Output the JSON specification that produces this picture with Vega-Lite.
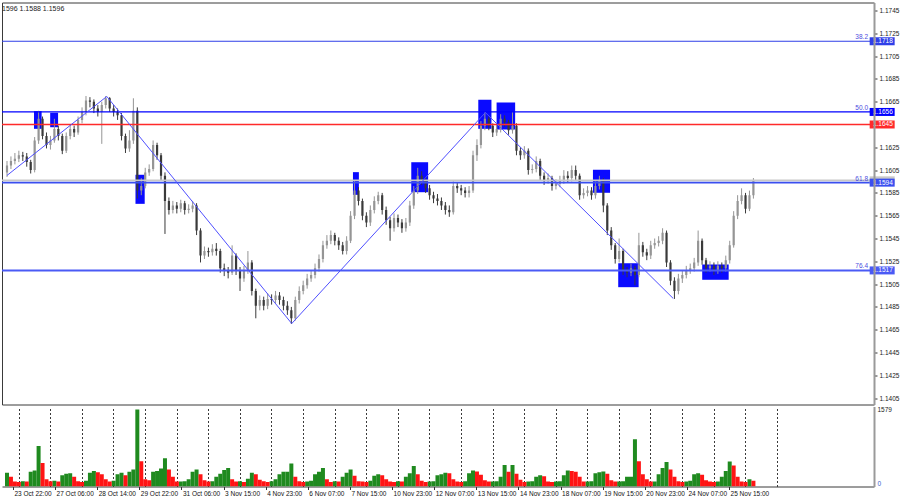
{
"$schema": "https://vega.github.io/schema/vega-lite/v6.json",
"padding": {"left": 0, "top": 1.5, "right": 0, "bottom": 0},
"background": "white",
"bounds": "flush",
"spacing": 2,
"title": {"text": "1596 1.1588 1.1596", "anchor": "start", "frame": "group", "orient": "top", "baseline": "top", "offset": -10, "fontSize": 7, "fontWeight": "normal", "color": "#222222", "font": "Liberation Sans"},
"datasets": {
"bars": [
{"t":0,"o":1.1603,"h":1.1613,"l":1.1599,"c":1.1609,"v":280},
{"t":3,"o":1.1609,"h":1.1617,"l":1.1606,"c":1.1613,"v":200},
{"t":6,"o":1.1613,"h":1.1620,"l":1.1610,"c":1.1615,"v":100},
{"t":9,"o":1.1615,"h":1.1622,"l":1.1612,"c":1.1618,"v":90},
{"t":12,"o":1.1618,"h":1.1621,"l":1.1613,"c":1.1617,"v":110},
{"t":15,"o":1.1617,"h":1.1620,"l":1.1608,"c":1.1612,"v":100},
{"t":18,"o":1.1612,"h":1.1614,"l":1.1602,"c":1.1605,"v":300},
{"t":21,"o":1.1605,"h":1.1634,"l":1.1603,"c":1.1631,"v":330},
{"t":24,"o":1.1631,"h":1.1657,"l":1.1628,"c":1.1650,"v":830},
{"t":27,"o":1.1650,"h":1.1652,"l":1.1632,"c":1.1635,"v":480},
{"t":30,"o":1.1635,"h":1.1638,"l":1.1624,"c":1.1627,"v":150},
{"t":33,"o":1.1627,"h":1.1635,"l":1.1623,"c":1.1631,"v":110},
{"t":36,"o":1.1631,"h":1.1650,"l":1.1629,"c":1.1641,"v":120},
{"t":39,"o":1.1641,"h":1.1644,"l":1.1631,"c":1.1635,"v":100},
{"t":42,"o":1.1635,"h":1.1637,"l":1.1619,"c":1.1622,"v":230},
{"t":45,"o":1.1622,"h":1.1638,"l":1.1620,"c":1.1635,"v":260},
{"t":48,"o":1.1635,"h":1.1645,"l":1.1632,"c":1.1641,"v":270},
{"t":51,"o":1.1641,"h":1.1644,"l":1.1634,"c":1.1638,"v":200},
{"t":54,"o":1.1638,"h":1.1652,"l":1.1636,"c":1.1649,"v":110},
{"t":57,"o":1.1649,"h":1.1660,"l":1.1646,"c":1.1656,"v":90},
{"t":60,"o":1.1656,"h":1.1670,"l":1.1653,"c":1.1666,"v":120},
{"t":63,"o":1.1666,"h":1.1669,"l":1.1660,"c":1.1665,"v":280},
{"t":66,"o":1.1665,"h":1.1667,"l":1.1655,"c":1.1659,"v":320},
{"t":69,"o":1.1659,"h":1.1662,"l":1.1652,"c":1.1656,"v":290},
{"t":72,"o":1.1656,"h":1.1665,"l":1.1628,"c":1.1662,"v":250},
{"t":75,"o":1.1662,"h":1.1670,"l":1.1659,"c":1.1668,"v":150},
{"t":78,"o":1.1668,"h":1.1669,"l":1.1656,"c":1.1659,"v":100},
{"t":81,"o":1.1659,"h":1.1662,"l":1.1652,"c":1.1656,"v":120},
{"t":84,"o":1.1656,"h":1.1659,"l":1.1649,"c":1.1653,"v":250},
{"t":87,"o":1.1653,"h":1.1655,"l":1.1631,"c":1.1635,"v":280},
{"t":90,"o":1.1635,"h":1.1637,"l":1.1620,"c":1.1624,"v":230},
{"t":93,"o":1.1624,"h":1.1640,"l":1.1621,"c":1.1631,"v":300},
{"t":96,"o":1.1631,"h":1.1668,"l":1.1628,"c":1.1657,"v":350},
{"t":99,"o":1.1657,"h":1.1660,"l":1.1580,"c":1.1587,"v":1579},
{"t":102,"o":1.1587,"h":1.1598,"l":1.1583,"c":1.1591,"v":520},
{"t":105,"o":1.1591,"h":1.1607,"l":1.1589,"c":1.1603,"v":150},
{"t":108,"o":1.1603,"h":1.1610,"l":1.1600,"c":1.1606,"v":130},
{"t":111,"o":1.1606,"h":1.1631,"l":1.1604,"c":1.1627,"v":300},
{"t":114,"o":1.1627,"h":1.1629,"l":1.1614,"c":1.1618,"v":320},
{"t":117,"o":1.1618,"h":1.1620,"l":1.1596,"c":1.1600,"v":370},
{"t":120,"o":1.1600,"h":1.1603,"l":1.1549,"c":1.1578,"v":580},
{"t":123,"o":1.1578,"h":1.1581,"l":1.1566,"c":1.1570,"v":350},
{"t":126,"o":1.1570,"h":1.1578,"l":1.1567,"c":1.1574,"v":200},
{"t":129,"o":1.1574,"h":1.1577,"l":1.1567,"c":1.1571,"v":100},
{"t":132,"o":1.1571,"h":1.1579,"l":1.1568,"c":1.1576,"v":100},
{"t":135,"o":1.1576,"h":1.1578,"l":1.1566,"c":1.1570,"v":110},
{"t":138,"o":1.1570,"h":1.1575,"l":1.1567,"c":1.1571,"v":150},
{"t":141,"o":1.1571,"h":1.1578,"l":1.1568,"c":1.1574,"v":300},
{"t":144,"o":1.1574,"h":1.1576,"l":1.1548,"c":1.1552,"v":350},
{"t":147,"o":1.1552,"h":1.1554,"l":1.1524,"c":1.1530,"v":250},
{"t":150,"o":1.1530,"h":1.1538,"l":1.1527,"c":1.1534,"v":130},
{"t":153,"o":1.1534,"h":1.1537,"l":1.1529,"c":1.1533,"v":100},
{"t":156,"o":1.1533,"h":1.1540,"l":1.1530,"c":1.1536,"v":110},
{"t":159,"o":1.1536,"h":1.1541,"l":1.1530,"c":1.1534,"v":200},
{"t":162,"o":1.1534,"h":1.1536,"l":1.1515,"c":1.1519,"v":260},
{"t":165,"o":1.1519,"h":1.1523,"l":1.1512,"c":1.1517,"v":340},
{"t":168,"o":1.1517,"h":1.1520,"l":1.1510,"c":1.1515,"v":380},
{"t":171,"o":1.1515,"h":1.1539,"l":1.1513,"c":1.1530,"v":150},
{"t":174,"o":1.1530,"h":1.1532,"l":1.1513,"c":1.1517,"v":100},
{"t":177,"o":1.1517,"h":1.1520,"l":1.1499,"c":1.1510,"v":110},
{"t":180,"o":1.1510,"h":1.1521,"l":1.1507,"c":1.1517,"v":90},
{"t":183,"o":1.1517,"h":1.1534,"l":1.1514,"c":1.1524,"v":160},
{"t":186,"o":1.1524,"h":1.1526,"l":1.1495,"c":1.1499,"v":280},
{"t":189,"o":1.1499,"h":1.1501,"l":1.1475,"c":1.1486,"v":250},
{"t":192,"o":1.1486,"h":1.1495,"l":1.1482,"c":1.1491,"v":140},
{"t":195,"o":1.1491,"h":1.1494,"l":1.1482,"c":1.1486,"v":110},
{"t":198,"o":1.1486,"h":1.1497,"l":1.1483,"c":1.1492,"v":90},
{"t":201,"o":1.1492,"h":1.1496,"l":1.1487,"c":1.1491,"v":110},
{"t":204,"o":1.1491,"h":1.1499,"l":1.1488,"c":1.1495,"v":150},
{"t":207,"o":1.1495,"h":1.1498,"l":1.1487,"c":1.1491,"v":250},
{"t":210,"o":1.1491,"h":1.1494,"l":1.1482,"c":1.1486,"v":300},
{"t":213,"o":1.1486,"h":1.1490,"l":1.1478,"c":1.1482,"v":300},
{"t":216,"o":1.1482,"h":1.1485,"l":1.1470,"c":1.1475,"v":470},
{"t":219,"o":1.1475,"h":1.1494,"l":1.1473,"c":1.1491,"v":200},
{"t":222,"o":1.1491,"h":1.1503,"l":1.1488,"c":1.1499,"v":110},
{"t":225,"o":1.1499,"h":1.1508,"l":1.1496,"c":1.1504,"v":90},
{"t":228,"o":1.1504,"h":1.1514,"l":1.1501,"c":1.1510,"v":100},
{"t":231,"o":1.1510,"h":1.1517,"l":1.1507,"c":1.1513,"v":120},
{"t":234,"o":1.1513,"h":1.1523,"l":1.1510,"c":1.1519,"v":250},
{"t":237,"o":1.1519,"h":1.1531,"l":1.1516,"c":1.1527,"v":300},
{"t":240,"o":1.1527,"h":1.1543,"l":1.1524,"c":1.1539,"v":380},
{"t":243,"o":1.1539,"h":1.1548,"l":1.1536,"c":1.1543,"v":150},
{"t":246,"o":1.1543,"h":1.1552,"l":1.1540,"c":1.1548,"v":90},
{"t":249,"o":1.1548,"h":1.1550,"l":1.1539,"c":1.1543,"v":110},
{"t":252,"o":1.1543,"h":1.1546,"l":1.1535,"c":1.1539,"v":100},
{"t":255,"o":1.1539,"h":1.1542,"l":1.1531,"c":1.1534,"v":200},
{"t":258,"o":1.1534,"h":1.1547,"l":1.1531,"c":1.1543,"v":280},
{"t":261,"o":1.1543,"h":1.1569,"l":1.1541,"c":1.1565,"v":350},
{"t":264,"o":1.1565,"h":1.1596,"l":1.1562,"c":1.1587,"v":220},
{"t":267,"o":1.1587,"h":1.1590,"l":1.1574,"c":1.1578,"v":110},
{"t":270,"o":1.1578,"h":1.1580,"l":1.1561,"c":1.1565,"v":100},
{"t":273,"o":1.1565,"h":1.1568,"l":1.1555,"c":1.1559,"v":90},
{"t":276,"o":1.1559,"h":1.1574,"l":1.1556,"c":1.1570,"v":120},
{"t":279,"o":1.1570,"h":1.1582,"l":1.1567,"c":1.1578,"v":220},
{"t":282,"o":1.1578,"h":1.1586,"l":1.1575,"c":1.1583,"v":250},
{"t":285,"o":1.1583,"h":1.1585,"l":1.1566,"c":1.1570,"v":230},
{"t":288,"o":1.1570,"h":1.1573,"l":1.1557,"c":1.1561,"v":150},
{"t":291,"o":1.1561,"h":1.1564,"l":1.1543,"c":1.1554,"v":100},
{"t":294,"o":1.1554,"h":1.1567,"l":1.1551,"c":1.1563,"v":90},
{"t":297,"o":1.1563,"h":1.1566,"l":1.1555,"c":1.1559,"v":110},
{"t":300,"o":1.1559,"h":1.1562,"l":1.1550,"c":1.1554,"v":100},
{"t":303,"o":1.1554,"h":1.1563,"l":1.1551,"c":1.1559,"v":200},
{"t":306,"o":1.1559,"h":1.1578,"l":1.1556,"c":1.1574,"v":270},
{"t":309,"o":1.1574,"h":1.1591,"l":1.1571,"c":1.1587,"v":420},
{"t":312,"o":1.1587,"h":1.1607,"l":1.1584,"c":1.1600,"v":250},
{"t":315,"o":1.1600,"h":1.1604,"l":1.1592,"c":1.1596,"v":120},
{"t":318,"o":1.1596,"h":1.1599,"l":1.1585,"c":1.1589,"v":90},
{"t":321,"o":1.1589,"h":1.1592,"l":1.1579,"c":1.1583,"v":100},
{"t":324,"o":1.1583,"h":1.1586,"l":1.1576,"c":1.1580,"v":110},
{"t":327,"o":1.1580,"h":1.1584,"l":1.1574,"c":1.1578,"v":230},
{"t":330,"o":1.1578,"h":1.1581,"l":1.1570,"c":1.1574,"v":250},
{"t":333,"o":1.1574,"h":1.1577,"l":1.1566,"c":1.1570,"v":280},
{"t":336,"o":1.1570,"h":1.1574,"l":1.1564,"c":1.1568,"v":270},
{"t":339,"o":1.1568,"h":1.1595,"l":1.1566,"c":1.1591,"v":150},
{"t":342,"o":1.1591,"h":1.1594,"l":1.1585,"c":1.1589,"v":100},
{"t":345,"o":1.1589,"h":1.1592,"l":1.1583,"c":1.1587,"v":90},
{"t":348,"o":1.1587,"h":1.1590,"l":1.1581,"c":1.1585,"v":110},
{"t":351,"o":1.1585,"h":1.1591,"l":1.1581,"c":1.1587,"v":270},
{"t":354,"o":1.1587,"h":1.1622,"l":1.1585,"c":1.1618,"v":330},
{"t":357,"o":1.1618,"h":1.1632,"l":1.1613,"c":1.1627,"v":310},
{"t":360,"o":1.1627,"h":1.1648,"l":1.1624,"c":1.1644,"v":240},
{"t":363,"o":1.1644,"h":1.1656,"l":1.1640,"c":1.1650,"v":130},
{"t":366,"o":1.1650,"h":1.1652,"l":1.1640,"c":1.1644,"v":100},
{"t":369,"o":1.1644,"h":1.1646,"l":1.1634,"c":1.1638,"v":100},
{"t":372,"o":1.1638,"h":1.1645,"l":1.1635,"c":1.1641,"v":110},
{"t":375,"o":1.1641,"h":1.1654,"l":1.1638,"c":1.1650,"v":200},
{"t":378,"o":1.1650,"h":1.1653,"l":1.1643,"c":1.1647,"v":440},
{"t":381,"o":1.1647,"h":1.1649,"l":1.1636,"c":1.1640,"v":300},
{"t":384,"o":1.1640,"h":1.1656,"l":1.1637,"c":1.1644,"v":440},
{"t":387,"o":1.1644,"h":1.1646,"l":1.1618,"c":1.1622,"v":260},
{"t":390,"o":1.1622,"h":1.1625,"l":1.1614,"c":1.1618,"v":140},
{"t":393,"o":1.1618,"h":1.1626,"l":1.1615,"c":1.1622,"v":90},
{"t":396,"o":1.1622,"h":1.1624,"l":1.1601,"c":1.1605,"v":100},
{"t":399,"o":1.1605,"h":1.1610,"l":1.1602,"c":1.1606,"v":110},
{"t":402,"o":1.1606,"h":1.1617,"l":1.1603,"c":1.1613,"v":200},
{"t":405,"o":1.1613,"h":1.1615,"l":1.1596,"c":1.1600,"v":230},
{"t":408,"o":1.1600,"h":1.1603,"l":1.1592,"c":1.1596,"v":210},
{"t":411,"o":1.1596,"h":1.1602,"l":1.1593,"c":1.1598,"v":100},
{"t":414,"o":1.1598,"h":1.1600,"l":1.1587,"c":1.1591,"v":90},
{"t":417,"o":1.1591,"h":1.1597,"l":1.1588,"c":1.1593,"v":100},
{"t":420,"o":1.1593,"h":1.1600,"l":1.1590,"c":1.1596,"v":110},
{"t":423,"o":1.1596,"h":1.1605,"l":1.1593,"c":1.1600,"v":230},
{"t":426,"o":1.1600,"h":1.1604,"l":1.1594,"c":1.1598,"v":330},
{"t":429,"o":1.1598,"h":1.1609,"l":1.1595,"c":1.1605,"v":320},
{"t":432,"o":1.1605,"h":1.1609,"l":1.1596,"c":1.1600,"v":300},
{"t":435,"o":1.1600,"h":1.1602,"l":1.1579,"c":1.1583,"v":200},
{"t":438,"o":1.1583,"h":1.1589,"l":1.1580,"c":1.1585,"v":100},
{"t":441,"o":1.1585,"h":1.1591,"l":1.1582,"c":1.1587,"v":100},
{"t":444,"o":1.1587,"h":1.1590,"l":1.1579,"c":1.1583,"v":110},
{"t":447,"o":1.1583,"h":1.1595,"l":1.1580,"c":1.1591,"v":270},
{"t":450,"o":1.1591,"h":1.1600,"l":1.1588,"c":1.1596,"v":290},
{"t":453,"o":1.1596,"h":1.1598,"l":1.1568,"c":1.1574,"v":310},
{"t":456,"o":1.1574,"h":1.1576,"l":1.1548,"c":1.1552,"v":260},
{"t":459,"o":1.1552,"h":1.1555,"l":1.1535,"c":1.1539,"v":130},
{"t":462,"o":1.1539,"h":1.1541,"l":1.1523,"c":1.1527,"v":100},
{"t":465,"o":1.1527,"h":1.1545,"l":1.1524,"c":1.1534,"v":100},
{"t":468,"o":1.1534,"h":1.1536,"l":1.1513,"c":1.1517,"v":110},
{"t":471,"o":1.1517,"h":1.1520,"l":1.1511,"c":1.1515,"v":200},
{"t":474,"o":1.1515,"h":1.1523,"l":1.1512,"c":1.1519,"v":200},
{"t":477,"o":1.1519,"h":1.1521,"l":1.1504,"c":1.1513,"v":970},
{"t":480,"o":1.1513,"h":1.1550,"l":1.1511,"c":1.1539,"v":520},
{"t":483,"o":1.1539,"h":1.1542,"l":1.1529,"c":1.1533,"v":250},
{"t":486,"o":1.1533,"h":1.1536,"l":1.1526,"c":1.1530,"v":150},
{"t":489,"o":1.1530,"h":1.1543,"l":1.1527,"c":1.1539,"v":100},
{"t":492,"o":1.1539,"h":1.1545,"l":1.1536,"c":1.1541,"v":100},
{"t":495,"o":1.1541,"h":1.1547,"l":1.1538,"c":1.1543,"v":250},
{"t":498,"o":1.1543,"h":1.1554,"l":1.1540,"c":1.1550,"v":380},
{"t":501,"o":1.1550,"h":1.1552,"l":1.1520,"c":1.1524,"v":500},
{"t":504,"o":1.1524,"h":1.1526,"l":1.1504,"c":1.1508,"v":350},
{"t":507,"o":1.1508,"h":1.1511,"l":1.1492,"c":1.1499,"v":200},
{"t":510,"o":1.1499,"h":1.1514,"l":1.1496,"c":1.1510,"v":110},
{"t":513,"o":1.1510,"h":1.1517,"l":1.1506,"c":1.1513,"v":90},
{"t":516,"o":1.1513,"h":1.1521,"l":1.1510,"c":1.1517,"v":100},
{"t":519,"o":1.1517,"h":1.1523,"l":1.1514,"c":1.1519,"v":120},
{"t":522,"o":1.1519,"h":1.1528,"l":1.1516,"c":1.1524,"v":250},
{"t":525,"o":1.1524,"h":1.1552,"l":1.1521,"c":1.1543,"v":270},
{"t":528,"o":1.1543,"h":1.1545,"l":1.1522,"c":1.1526,"v":240},
{"t":531,"o":1.1526,"h":1.1528,"l":1.1515,"c":1.1519,"v":130},
{"t":534,"o":1.1519,"h":1.1525,"l":1.1516,"c":1.1521,"v":100},
{"t":537,"o":1.1521,"h":1.1524,"l":1.1513,"c":1.1517,"v":90},
{"t":540,"o":1.1517,"h":1.1525,"l":1.1514,"c":1.1521,"v":100},
{"t":543,"o":1.1521,"h":1.1524,"l":1.1515,"c":1.1519,"v":200},
{"t":546,"o":1.1519,"h":1.1530,"l":1.1516,"c":1.1526,"v":320},
{"t":549,"o":1.1526,"h":1.1543,"l":1.1523,"c":1.1539,"v":510},
{"t":552,"o":1.1539,"h":1.1569,"l":1.1537,"c":1.1565,"v":430},
{"t":555,"o":1.1565,"h":1.1583,"l":1.1562,"c":1.1578,"v":200},
{"t":558,"o":1.1578,"h":1.1589,"l":1.1575,"c":1.1583,"v":100},
{"t":561,"o":1.1583,"h":1.1585,"l":1.1567,"c":1.1571,"v":90},
{"t":564,"o":1.1571,"h":1.1587,"l":1.1569,"c":1.1583,"v":150},
{"t":567,"o":1.1583,"h":1.1598,"l":1.1580,"c":1.1596,"v":120}
],
"boxes": [
{"t1":20.5,"t2":26.3,"p1":1.16567,"p2":1.16412},
{"t1":32.8,"t2":38.8,"p1":1.16553,"p2":1.16426},
{"t1":97.6,"t2":104.6,"p1":1.16009,"p2":1.15754},
{"t1":262.8,"t2":267.3,"p1":1.16032,"p2":1.15833},
{"t1":307.1,"t2":319.9,"p1":1.16119,"p2":1.15856},
{"t1":358.0,"t2":368.0,"p1":1.16667,"p2":1.16412},
{"t1":371.9,"t2":386.0,"p1":1.16643,"p2":1.16406},
{"t1":445.1,"t2":458.1,"p1":1.16053,"p2":1.15851},
{"t1":464.3,"t2":479.8,"p1":1.15233,"p2":1.15023},
{"t1":528.1,"t2":548.2,"p1":1.15222,"p2":1.15088}
],
"zig": [
{"t":0,"p":1.16003},
{"t":75.8,"p":1.16696},
{"t":216.3,"p":1.14704},
{"t":363.4,"p":1.16555},
{"t":506.1,"p":1.14924}
],
"levels": [
{"name":"fib382","p":1.1718,"lab":"38.2"},
{"name":"fib50","p":1.1656,"lab":"50.0"},
{"name":"red","p":1.1645,"lab":""},
{"name":"bid","p":1.1596,"lab":""},
{"name":"fib618","p":1.1594,"lab":"61.8"},
{"name":"fib764","p":1.1517,"lab":"76.4"}
]
},
"vconcat": [
{
"width": 872,
"height": 402,
"view": {"stroke": "#3a3a3a", "strokeWidth": 1},
"resolve": {"axis": {"y": "independent"}},
"layer": [
{
"data": {"name": "boxes"},
"mark": {"type": "rect", "color": "#0a0aff"},
"encoding": {
"x": {"field": "t1", "type": "quantitative", "scale": {"domain": [0, 654.8], "nice": false, "zero": false},
"axis": {"orient": "bottom", "title": null, "values": [8.8,32.8,56.8,80.8,104.8,128.8,152.8,176.8,200.8,224.8,248.8,272.8,296.8,320.8,344.8,368.8,392.8,416.8,440.8,464.8,488.8,512.8,536.8,560.8,584.8], "grid": true, "gridDash": [2,2], "gridColor": "#3a3a3a", "gridWidth": 1, "labels": false, "ticks": false, "domain": true, "domainColor": "#a8a8a8", "domainWidth": 3}},
"x2": {"field": "t2"},
"y": {"field": "p1", "type": "quantitative", "scale": {"domain": [1.13994, 1.1752], "nice": false, "zero": false}, "axis": null},
"y2": {"field": "p2"}
}
},
{
"data": {"name": "bars"},
"mark": {"type": "rule", "strokeWidth": 1, "clip": true},
"encoding": {
"x": {"field": "t", "type": "quantitative", "axis": null},
"y": {"field": "l", "type": "quantitative",
"axis": {"orient": "right", "title": null, "grid": false, "zindex": 1, "offset": 0, "values": [1.1745,1.1725,1.1705,1.1685,1.1665,1.1625,1.1605,1.1585,1.1565,1.1545,1.1525,1.1505,1.1485,1.1465,1.1445,1.1425,1.1405], "format": ".4f", "domainColor": "#9a9a9a", "domainWidth": 2, "tickSize": 3, "tickColor": "#333333", "tickWidth": 1, "labelPadding": 2, "labelFontSize": 6.5, "labelFont": "Liberation Sans", "labelColor": "#1a1a1a", "labelOverlap": false, "labelFlush": false}},
"y2": {"field": "h"},
"color": {"condition": {"test": "datum.c >= datum.o", "value": "#959595"}, "value": "#3a3a3a"}
}
},
{
"data": {"name": "bars"},
"mark": {"type": "bar", "width": 2.2, "clip": true},
"encoding": {
"x": {"field": "t", "type": "quantitative", "axis": null},
"y": {"field": "o", "type": "quantitative", "axis": null},
"y2": {"field": "c"},
"color": {"condition": {"test": "datum.c >= datum.o", "value": "#959595"}, "value": "#3a3a3a"}
}
},
{
"data": {"name": "levels"},
"mark": {"type": "rule"},
"encoding": {
"y": {"field": "p", "type": "quantitative", "axis": null},
"color": {"field": "name", "type": "nominal", "scale": {"domain": ["fib382","fib50","red","bid","fib618","fib764"], "range": ["#2f3fe8","#0000ff","#ff2a2a","#c8c8c8","#3a4ff0","#4a5af5"]}, "legend": null},
"strokeWidth": {"field": "name", "type": "ordinal", "scale": {"domain": ["fib382","fib50","red","bid","fib618","fib764"], "range": [1,2,1,2,1,3]}, "legend": null}
}
},
{
"data": {"name": "zig"},
"mark": {"type": "line", "color": "#4f4fff", "strokeWidth": 1, "clip": true},
"encoding": {
"x": {"field": "t", "type": "quantitative", "axis": null},
"y": {"field": "p", "type": "quantitative", "axis": null},
"order": {"field": "t"}
}
},
{
"data": {"name": "levels"},
"transform": [{"filter": "datum.lab != ''"}],
"mark": {"type": "text", "align": "right", "baseline": "bottom", "dx": -1, "dy": -1, "fontSize": 6.5, "font": "Liberation Sans", "color": "#4d4dde"},
"encoding": {
"x": {"datum": 654.8, "type": "quantitative", "axis": null},
"y": {"field": "p", "type": "quantitative", "axis": null},
"text": {"field": "lab"}
}
},
{
"data": {"name": "levels"},
"mark": {"type": "tick", "orient": "horizontal", "size": 25, "thickness": 8, "clip": false, "opacity": 1},
"encoding": {
"x": {"datum": 664.8, "type": "quantitative", "axis": null},
"y": {"field": "p", "type": "quantitative", "axis": null},
"color": {"field": "name", "type": "nominal", "scale": {"domain": ["fib382","fib50","red","bid","fib618","fib764"], "range": ["#0a0aff","#0a0aff","#ff0000","#000000","#0a0aff","#0a0aff"]}, "legend": null}
}
},
{
"data": {"name": "levels"},
"transform": [{"filter": "datum.name != 'bid'"}],
"mark": {"type": "text", "align": "left", "baseline": "middle", "fontSize": 6.5, "font": "Liberation Sans", "color": "#ffffff", "clip": false},
"encoding": {
"x": {"datum": 657.8, "type": "quantitative", "axis": null},
"y": {"field": "p", "type": "quantitative", "axis": null},
"text": {"field": "p", "type": "quantitative", "format": ".4f"}
}
}
]
},
{
"width": 872,
"height": 80,
"data": {"name": "bars"},
"transform": [{"window": [{"op": "lag", "field": "v", "as": "pv"}], "sort": [{"field": "t"}]}],
"encoding": {
"y": {"field": "v", "type": "quantitative", "scale": {"domain": [0, 1640], "nice": false},
"axis": {"orient": "right", "title": null, "values": [0, 1579], "format": "d", "grid": false, "ticks": false, "domainColor": "#9a9a9a", "domainWidth": 2, "labelPadding": 3, "labelFontSize": 6.5, "labelFont": "Liberation Sans", "labelOverlap": false, "labelFlush": false,
"labelBaseline": {"condition": {"test": "datum.value == 0", "value": "bottom"}, "value": "middle"},
"labelColor": {"condition": {"test": "datum.value == 0", "value": "#3a5fcd"}, "value": "#1a1a1a"}}}
},
"layer": [
{
"transform": [{"filter": "datum.pv == null || datum.v >= datum.pv"}],
"mark": {"type": "bar", "width": 4, "color": "#1f8a1f", "clip": true},
"encoding": {
"x": {"field": "t", "type": "quantitative", "scale": {"domain": [0, 654.8], "nice": false, "zero": false},
"axis": {"orient": "top", "title": null, "values": [8.8,32.8,56.8,80.8,104.8,128.8,152.8,176.8,200.8,224.8,248.8,272.8,296.8,320.8,344.8,368.8,392.8,416.8,440.8,464.8,488.8,512.8,536.8,560.8,584.8], "grid": true, "gridDash": [2,2], "gridColor": "#3a3a3a", "gridWidth": 1, "labels": false, "ticks": false, "domain": false}}
}
},
{
"transform": [{"filter": "!(datum.pv == null || datum.v >= datum.pv)"}],
"mark": {"type": "bar", "width": 4, "color": "#ff1414", "clip": true},
"encoding": {
"x": {"field": "t", "type": "quantitative",
"axis": {"orient": "bottom", "title": null, "values": [4.5,36.5,68.5,100.5,132.5,164.5,196.5,228.5,260.5,292.5,324.5,356.5,388.5,420.5,452.5,484.5,516.5,548.5],
"labelExpr": "['23 Oct 22:00','27 Oct 06:00','28 Oct 14:00','29 Oct 22:00','31 Oct 06:00','3 Nov 15:00','4 Nov 23:00','6 Nov 07:00','7 Nov 15:00','10 Nov 23:00','12 Nov 07:00','13 Nov 15:00','14 Nov 23:00','18 Nov 07:00','19 Nov 15:00','20 Nov 23:00','24 Nov 07:00','25 Nov 15:00'][round((datum.value - 4.5) / 32)]",
"labelAlign": "left", "labelFlush": false, "labelOverlap": false, "grid": false, "ticks": true, "tickSize": 3, "tickColor": "#333333", "domainColor": "#3a3a3a", "domainWidth": 1, "labelPadding": 1, "labelOffset": 1, "labelFontSize": 6.5, "labelFont": "Liberation Sans", "labelColor": "#111111"}}
}
}
],
"resolve": {"axis": {"x": "independent"}}
}
],
"config": {
"view": {"stroke": null},
"font": "Liberation Sans",
"axis": {"labelFont": "Liberation Sans"}
}
}
